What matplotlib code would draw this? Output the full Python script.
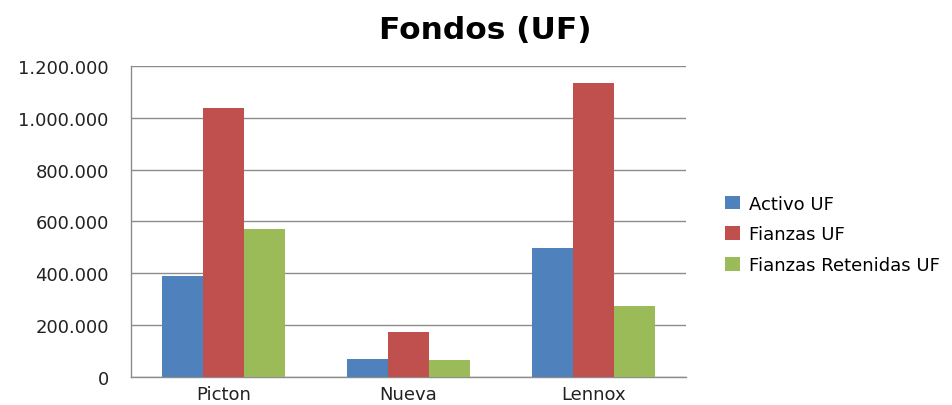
import matplotlib.pyplot as plt
import matplotlib.ticker as mticker
import numpy as np

categories = ['Picton', 'Nueva', 'Lennox']
series_names = ['Activo UF', 'Fianzas UF', 'Fianzas Retenidas UF']
activo_uf = [391000, 71000, 497000]
fianzas_uf = [1037000, 175000, 1134000]
fianzas_retenidas_uf = [571000, 67000, 273000]
y_ticks = [0, 200000, 400000, 600000, 800000, 1000000, 1200000]

colors = ['#4F81BD', '#C0504D', '#9BBB59']


def fmt_dots(v, pos=None):
    return '{:,.0f}'.format(v).replace(',', '.')


fig = plt.figure(figsize=(9.52, 4.06), dpi=100)
ax = fig.add_axes([0.1376, 0.069, 0.583, 0.766])

x = np.arange(len(categories))
width = 0.222
for i, (name, vals) in enumerate(zip(series_names, [activo_uf, fianzas_uf, fianzas_retenidas_uf])):
    ax.bar(x + (i - 1) * width, vals, width, color=colors[i], label=name, zorder=3)

ax.set_xlim(-0.5, len(categories) - 0.5)
ax.set_ylim(0, 1200000)
ax.set_yticks(y_ticks)
ax.yaxis.set_major_formatter(mticker.FuncFormatter(fmt_dots))
ax.set_xticks(x)
ax.set_xticklabels(categories)
ax.grid(axis='y', color='#8c8c8c', linewidth=1, zorder=0)

for s in ['top', 'right']:
    ax.spines[s].set_visible(False)
for s in ['left', 'bottom']:
    ax.spines[s].set_color('#8c8c8c')
    ax.spines[s].set_linewidth(1)

ax.tick_params(axis='both', length=0, labelsize=13, colors='#222222')
ax.tick_params(axis='y', pad=16)
ax.tick_params(axis='x', pad=6)

fig.text(0.51, 0.925, 'Fondos (UF)', ha='center', va='center',
         fontsize=22.5, fontweight='bold')

fig.legend(loc='center left', bbox_to_anchor=(0.745, 0.42), frameon=False,
           fontsize=13, handlelength=0.8, handleheight=0.8,
           handletextpad=0.5, labelspacing=0.7)

fig.savefig('out.png', dpi=100)
